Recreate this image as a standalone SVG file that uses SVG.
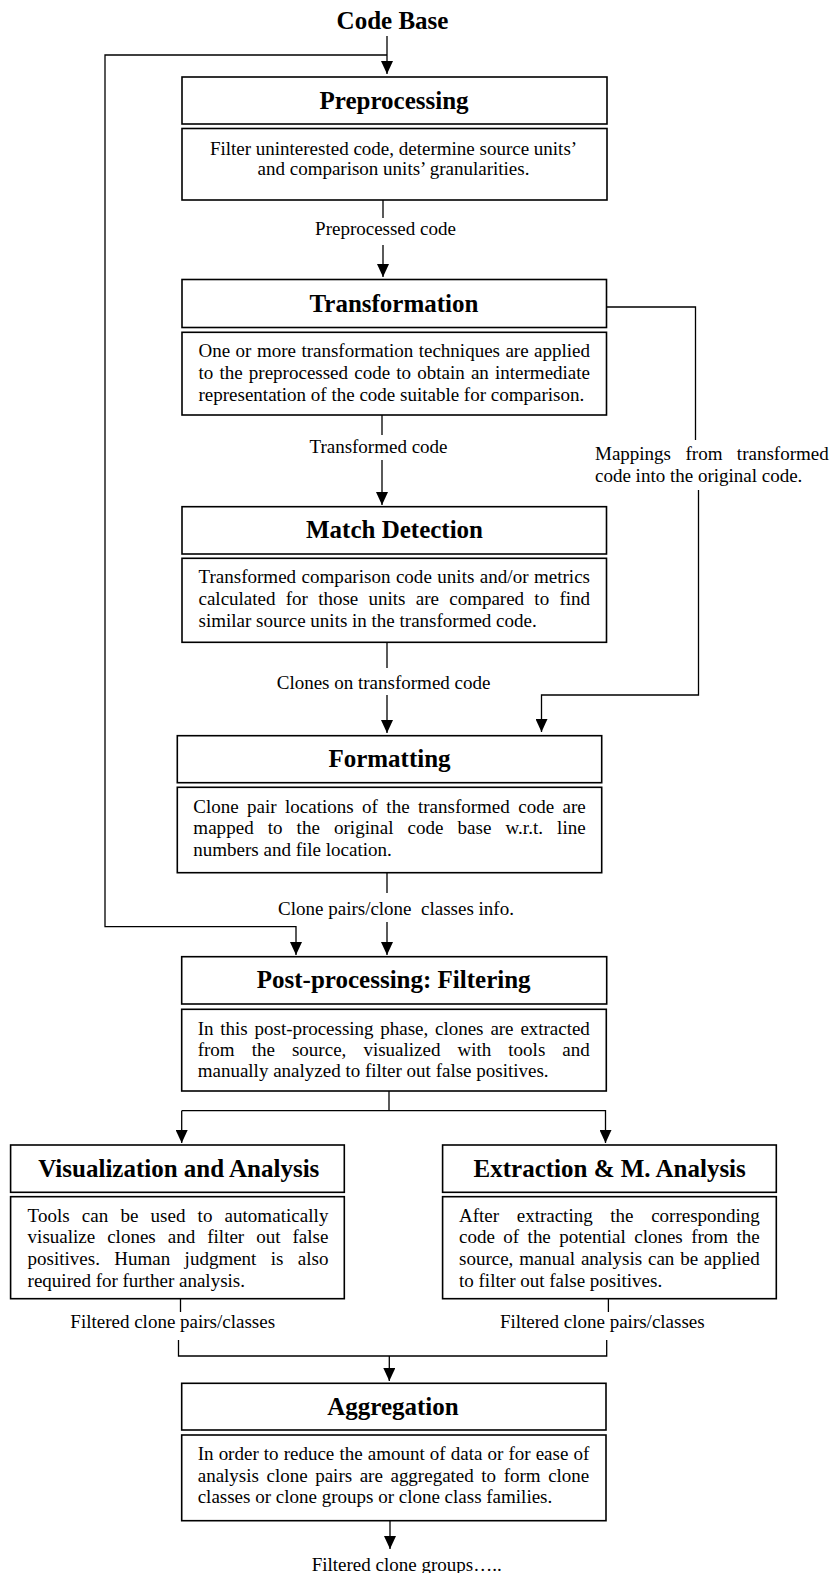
<svg xmlns="http://www.w3.org/2000/svg" width="833" height="1573" viewBox="0 0 833 1573">
<style>
  .box{fill:#fff;stroke:#000;stroke-width:1.6}
  .h{font-family:"Liberation Serif","Times New Roman",serif;font-weight:bold;font-size:25px;text-anchor:middle;fill:#000}
  .t{font-family:"Liberation Serif","Times New Roman",serif;font-size:19px;fill:#000}
  .c{text-anchor:middle}
  .ln{fill:none;stroke:#000;stroke-width:1.3}
  .ar{fill:none;stroke:#000;stroke-width:1.3;marker-end:url(#ah)}
</style>
<defs>
  <marker id="ah" markerUnits="userSpaceOnUse" markerWidth="13" markerHeight="12" refX="13" refY="6" orient="auto">
    <path d="M0,0 L13,6 L0,12 Z" fill="#000"/>
  </marker>
</defs>
<rect width="833" height="1573" fill="#fff"/>

<g id="codebase">
  <text class="h" x="392.5" y="29">Code Base</text>
</g>

<g id="connectors">
  <path class="ar" d="M387,36 V74"/>
  <path class="ar" d="M387,55 H105 V926.7 H296 V955"/>
  <path class="ln" d="M383,200 V218"/>
  <text class="t c" x="385.5" y="235">Preprocessed code</text>
  <path class="ar" d="M383,245 V277"/>
  <path class="ln" d="M606.5,307 H695.5 V440"/>
  <text class="t" x="595" y="460" textLength="233.7" lengthAdjust="spacing" style="word-spacing:9.7px">Mappings from transformed</text>
  <text class="t" x="595" y="481.7">code into the original code.</text>
  <path class="ar" d="M698.5,490 V695 H541.5 V732"/>
  <path class="ln" d="M382,415 V435"/>
  <text class="t c" x="378.5" y="453">Transformed code</text>
  <path class="ar" d="M382,460 V505"/>
  <path class="ln" d="M387,642 V668"/>
  <text class="t c" x="383.6" y="689">Clones on transformed code</text>
  <path class="ar" d="M387,695 V733"/>
  <path class="ln" d="M387,873 V893"/>
  <text class="t c" x="396" y="915" style="white-space:pre">Clone pairs/clone  classes info.</text>
  <path class="ar" d="M387,922 V955"/>
  <path class="ln" d="M389,1091 V1110.7"/>
  <path class="ar" d="M181.7,1110.7 V1143"/>
  <path class="ar" d="M181.7,1110.7 H605.5 V1143"/>
  <path class="ln" d="M180.5,1299 V1312"/>
  <text class="t c" x="172.7" y="1328.3">Filtered clone pairs/classes</text>
  <path class="ln" d="M608.4,1299 V1312"/>
  <text class="t c" x="602.3" y="1328.3">Filtered clone pairs/classes</text>
  <path class="ln" d="M178.5,1340 V1356 H606.7 V1340"/>
  <path class="ar" d="M389.3,1356 V1381"/>
  <path class="ar" d="M390,1521 V1549"/>
  <text class="t c" x="406.7" y="1571">Filtered clone groups…..</text>
</g>

<g id="preprocessing">
  <rect class="box" x="182" y="77" width="425" height="47"/>
  <text class="h" x="394" y="109">Preprocessing</text>
  <rect class="box" x="182" y="128.5" width="425" height="71.5"/>
  <text class="t c" x="393.5" y="155">Filter uninterested code, determine source units’</text>
  <text class="t c" x="393.5" y="175">and comparison units’ granularities.</text>
</g>

<g id="transformation">
  <rect class="box" x="182" y="279.5" width="424.5" height="48"/>
  <text class="h" x="394" y="311.7">Transformation</text>
  <rect class="box" x="182" y="332.3" width="424.5" height="82.7"/>
  <text class="t" x="198.5" y="357" textLength="391.5" lengthAdjust="spacing" style="word-spacing:0.7px">One or more transformation techniques are applied</text>
  <text class="t" x="198.5" y="379" textLength="391.5" lengthAdjust="spacing" style="word-spacing:1.43px">to the preprocessed code to obtain an intermediate</text>
  <text class="t" x="198.5" y="401">representation of the code suitable for comparison.</text>
</g>

<g id="matchdetection">
  <rect class="box" x="182" y="506.7" width="424.5" height="47.3"/>
  <text class="h" x="394.5" y="538">Match Detection</text>
  <rect class="box" x="182" y="558.3" width="424.5" height="84"/>
  <text class="t" x="198.5" y="583.3" textLength="391.5" lengthAdjust="spacing" style="word-spacing:0.74px">Transformed comparison code units and/or metrics</text>
  <text class="t" x="198.5" y="605" textLength="391.5" lengthAdjust="spacing" style="word-spacing:5.5px">calculated for those units are compared to find</text>
  <text class="t" x="198.5" y="626.7">similar source units in the transformed code.</text>
</g>

<g id="formatting">
  <rect class="box" x="177.3" y="735.7" width="424.4" height="47"/>
  <text class="h" x="389.5" y="767.3">Formatting</text>
  <rect class="box" x="177.3" y="787.3" width="424.4" height="85.4"/>
  <text class="t" x="193.3" y="812.7" textLength="392.4" lengthAdjust="spacing" style="word-spacing:3.67px">Clone pair locations of the transformed code are</text>
  <text class="t" x="193.3" y="834.3" textLength="392.4" lengthAdjust="spacing" style="word-spacing:9.17px">mapped to the original code base w.r.t. line</text>
  <text class="t" x="193.3" y="856">numbers and file location.</text>
</g>

<g id="postprocessing">
  <rect class="box" x="181.7" y="956.7" width="425" height="47.3"/>
  <text class="h" x="393.7" y="988.3">Post-processing: Filtering</text>
  <rect class="box" x="181.7" y="1009.3" width="424.6" height="81.7"/>
  <text class="t" x="197.7" y="1035" textLength="392.1" lengthAdjust="spacing" style="word-spacing:2.17px">In this post-processing phase, clones are extracted</text>
  <text class="t" x="197.7" y="1056" textLength="392.1" lengthAdjust="spacing" style="word-spacing:12.3px">from the source, visualized with tools and</text>
  <text class="t" x="197.7" y="1077">manually analyzed to filter out false positives.</text>
</g>

<g id="visualization">
  <rect class="box" x="10.6" y="1145" width="333.7" height="47.3"/>
  <text class="h" x="178.8" y="1176.7">Visualization and Analysis</text>
  <rect class="box" x="10.6" y="1196.7" width="333.7" height="102"/>
  <text class="t" x="27.6" y="1222.3" textLength="300.8" lengthAdjust="spacing" style="word-spacing:7.28px">Tools can be used to automatically</text>
  <text class="t" x="27.6" y="1243.3" textLength="300.8" lengthAdjust="spacing" style="word-spacing:7.28px">visualize clones and filter out false</text>
  <text class="t" x="27.6" y="1265" textLength="300.8" lengthAdjust="spacing" style="word-spacing:9.6px">positives. Human judgment is also</text>
  <text class="t" x="27.6" y="1286.7">required for further analysis.</text>
</g>

<g id="extraction">
  <rect class="box" x="442.6" y="1145" width="333.7" height="47.3"/>
  <text class="h" x="609.7" y="1176.7">Extraction &amp; M. Analysis</text>
  <rect class="box" x="442.6" y="1196.7" width="333.7" height="102"/>
  <text class="t" x="459" y="1222.3" textLength="300.8" lengthAdjust="spacing" style="word-spacing:12.9px">After extracting the corresponding</text>
  <text class="t" x="459" y="1243.3" textLength="300.8" lengthAdjust="spacing" style="word-spacing:3.7px">code of the potential clones from the</text>
  <text class="t" x="459" y="1265" textLength="300.8" lengthAdjust="spacing" style="word-spacing:1.06px">source, manual analysis can be applied</text>
  <text class="t" x="459" y="1286.7">to filter out false positives.</text>
</g>

<g id="aggregation">
  <rect class="box" x="181.7" y="1383.3" width="424.3" height="46.7"/>
  <text class="h" x="393" y="1415">Aggregation</text>
  <rect class="box" x="181.7" y="1435" width="424.3" height="85.7"/>
  <text class="t" x="197.7" y="1460" textLength="391.6" lengthAdjust="spacing" style="word-spacing:0.35px">In order to reduce the amount of data or for ease of</text>
  <text class="t" x="197.7" y="1481.7" textLength="391.6" lengthAdjust="spacing" style="word-spacing:2.8px">analysis clone pairs are aggregated to form clone</text>
  <text class="t" x="197.7" y="1503.3">classes or clone groups or clone class families.</text>
</g>
</svg>
